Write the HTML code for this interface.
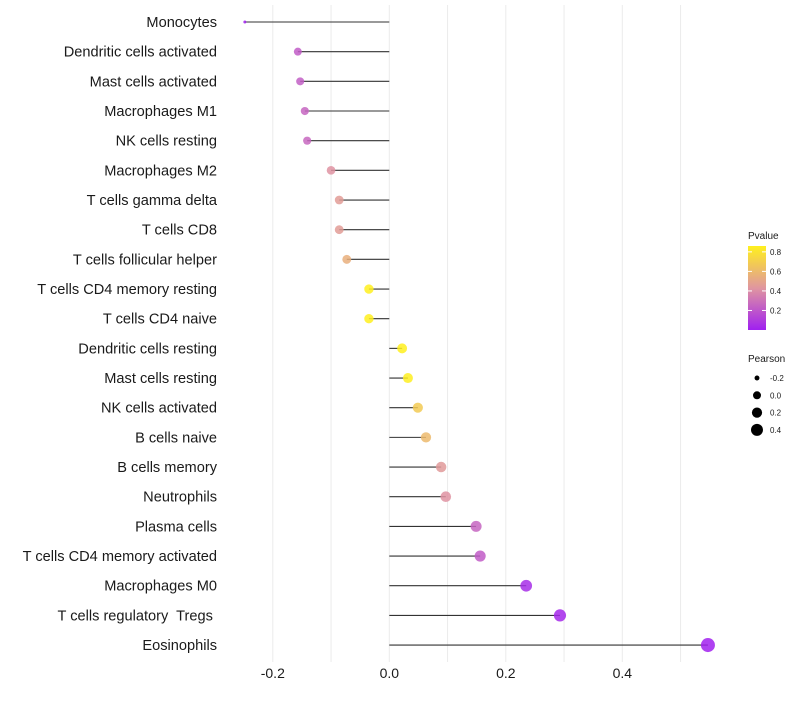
<!DOCTYPE html>
<html><head><meta charset="utf-8"><style>
body{margin:0;background:#fff;font-family:"Liberation Sans",sans-serif}
svg text{font-family:"Liberation Sans",sans-serif;white-space:pre}
</style></head><body>
<svg id="chart" width="800" height="700"></svg>
<script>
const categories=["Monocytes","Dendritic cells activated","Mast cells activated","Macrophages M1","NK cells resting","Macrophages M2","T cells gamma delta","T cells CD8","T cells follicular helper","T cells CD4 memory resting","T cells CD4 naive","Dendritic cells resting","Mast cells resting","NK cells activated","B cells naive","B cells memory","Neutrophils","Plasma cells","T cells CD4 memory activated","Macrophages M0","T cells regulatory  Tregs ","Eosinophils"];
const pearson=[-0.248,-0.157,-0.153,-0.145,-0.141,-0.100,-0.086,-0.086,-0.073,-0.035,-0.035,0.022,0.032,0.049,0.063,0.089,0.097,0.149,0.156,0.235,0.293,0.547];
const pvalues=[0.005,0.22,0.23,0.25,0.26,0.42,0.46,0.46,0.55,0.86,0.86,0.86,0.85,0.68,0.6,0.45,0.42,0.25,0.22,0.05,0.03,0.005];
const xTicks=[-0.2,0,0.2,0.4];
const xGrid=[-0.2,-0.1,0,0.1,0.2,0.3,0.4,0.5];
const legendPearson=[-0.2,0,0.2,0.4];
const legendP=[0.8,0.6,0.4,0.2];

const NS="http://www.w3.org/2000/svg";
const svg=document.getElementById('chart');
function mk(t,a,parent){const e=document.createElementNS(NS,t);for(const k in a)e.setAttribute(k,a[k]);(parent||svg).appendChild(e);return e;}
const x=v=>389.3+v*582.5;
const y=i=>22+i*29.67;
const pmax=0.86;
function lerp(a,b,t){return a.map((v,i)=>Math.round(v+(b[i]-v)*t));}
function color(p){const t=Math.max(0,Math.min(1,p/pmax));
 const c0=[160,32,240],c1=[224,150,160],c2=[255,240,30];
 const c=t<0.5?lerp(c0,c1,t/0.5):lerp(c1,c2,(t-0.5)/0.5);return `rgb(${c})`;}
function rad(v){let r2=23.4+47*v; if(v<-0.2) r2-=400*(-0.2-v)*(1); return Math.sqrt(Math.max(2.25,r2));}
function legRad(v){return Math.sqrt(Math.max(2,16+50*v));}

xGrid.forEach(g=>{const l=mk('line',{x1:x(g),x2:x(g),y1:5,y2:662,stroke:'#ebebeb','stroke-width':1});
});
xTicks.forEach(t=>{const e=mk('text',{x:x(t),y:678,'text-anchor':'middle','font-size':14,fill:'#1a1a1a'});e.textContent=t===0?'0.0':t.toFixed(1);
});
categories.forEach((c,i)=>{
 const t=mk('text',{x:217,y:y(i)+5,'text-anchor':'end','font-size':14.6,fill:'#1a1a1a'});t.textContent=c;
 
 const l=mk('line',{x1:x(0),x2:x(pearson[i]),y1:y(i),y2:y(i),stroke:'#333','stroke-width':1.1});
 
 const p=mk('circle',{cx:x(pearson[i]),cy:y(i),r:rad(pearson[i]),fill:color(pvalues[i]),'fill-opacity':0.85});
 
});
const g=mk('g',{});
const tt=mk('text',{x:748,y:239,'font-size':10,fill:'#1a1a1a'},g);tt.textContent='Pvalue';
const defs=mk('defs',{},g);const lg=mk('linearGradient',{id:'pg',x1:0,y1:1,x2:0,y2:0},defs);
for(let k=0;k<=10;k++){mk('stop',{offset:k/10,'stop-color':color(pmax*k/10)},lg);}
mk('rect',{x:748,y:246,width:18,height:84,fill:'url(#pg)'},g);
legendP.forEach(p=>{const yy=330-(p/pmax)*84;mk('line',{x1:748,x2:752,y1:yy,y2:yy,stroke:'#fff'},g);mk('line',{x1:762,x2:766,y1:yy,y2:yy,stroke:'#fff'},g);
 const e=mk('text',{x:770,y:yy+3,'font-size':8,fill:'#1a1a1a'},g);e.textContent=p.toFixed(1);});
const g2=mk('g',{});
const t2=mk('text',{x:748,y:362,'font-size':10,fill:'#1a1a1a'},g2);t2.textContent='Pearson';
legendPearson.forEach((v,k)=>{const yy=378+k*17.3;mk('circle',{cx:757,cy:yy,r:legRad(v),fill:'#000'},g2);
 const e=mk('text',{x:770,y:yy+3,'font-size':8,fill:'#1a1a1a'},g2);e.textContent=v.toFixed(1);});
</script>
</body></html>
